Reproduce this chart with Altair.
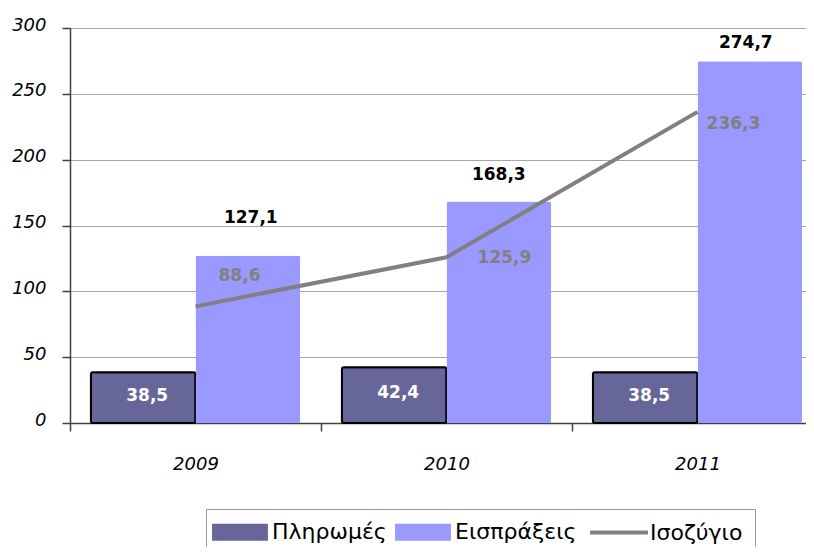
import altair as alt
import pandas as pd

years = ["2009", "2010", "2011"]
payments = [38.5, 42.4, 38.5]
receipts = [127.1, 168.3, 274.7]
balance = [88.6, 125.9, 236.3]
series_names = ["Πληρωμές", "Εισπράξεις", "Ισοζύγιο"]
series_colors = ["#666699", "#9999FF", "#808080"]
y_ticks = [0, 50, 100, 150, 200, 250, 300]

FONT = "DejaVu Sans"


def fmt(v):
    return f"{v:.1f}".replace(".", ",")


bars = pd.DataFrame({
    "year": years * 2,
    "series": [series_names[0]] * 3 + [series_names[1]] * 3,
    "value": payments + receipts,
})
bars["label"] = bars["value"].map(fmt)

line = pd.DataFrame({"year": years, "series": series_names[2], "value": balance})
line["label"] = line["value"].map(fmt)

x_enc = alt.X(
    "year:N", sort=years, title=None,
    scale=alt.Scale(range=[0, 753], paddingInner=0, paddingOuter=0),
    axis=alt.Axis(labelAngle=0, labelFont=FONT, labelFontSize=18, labelFontStyle="italic",
                  labelColor="black", labelPadding=24, tickBand="extent", tickSize=8,
                  tickColor="#404040", tickWidth=1.5, domainColor="#404040", domainWidth=1.5,
                  grid=False),
)
y_axis = alt.Axis(values=y_ticks, title=None, labelFont=FONT, labelFontSize=18,
                  labelFontStyle="italic", labelColor="black", labelPadding=16, tickSize=8,
                  tickColor="#404040", tickWidth=1.5, domainColor="#404040", domainWidth=1.5,
                  grid=True, gridColor="#a6a6a6", gridWidth=1, labelOffset=-3)
y_scale = alt.Scale(domain=[0, 300], nice=False)
xoff = alt.XOffset("series:N", sort=series_names[:2],
                   scale=alt.Scale(domain=series_names[:2], paddingInner=0, paddingOuter=0.2))

LINE_NAME = series_names[2]
DARK_NAME = series_names[0]

color = alt.Color(
    "series:N",
    scale=alt.Scale(domain=series_names, range=series_colors),
    legend=alt.Legend(
        orient="none", legendX=136, legendY=481, direction="horizontal", title=None,
        labelFont=FONT, labelFontSize=22, labelColor="black", labelLimit=0,
        symbolSize=784, labelOffset=32, columnPadding=5, padding=12,
        strokeColor="#999999", fillColor="white", rowPadding=0,
        symbolType={"expr": f"datum.value === '{LINE_NAME}' ? 'M-1.21,0H2.93' : 'M-1.14,-0.54H2.71V0.54H-1.14Z'"},
        symbolStrokeColor={"expr": f"datum.value === '{DARK_NAME}' ? 'black' : datum.value === '{LINE_NAME}' ? '#808080' : 'transparent'"},
        symbolStrokeWidth={"expr": f"datum.value === '{LINE_NAME}' ? 4 : 2"},
        symbolOpacity=1,
    ),
)

bar_layer = alt.Chart(bars).mark_bar(cornerRadius=2, strokeWidth=2).encode(
    x=x_enc, xOffset=xoff,
    y=alt.Y("value:Q", scale=y_scale, axis=y_axis),
    color=color,
    stroke=alt.condition(alt.datum.series == DARK_NAME, alt.value("black"), alt.value("transparent")),
)

line_layer = alt.Chart(line).mark_line(strokeWidth=4).encode(
    x=x_enc,
    y=alt.Y("value:Q", scale=y_scale, axis=y_axis),
    color=color,
)

dark_labels = alt.Chart(bars).transform_filter(
    alt.datum.series == DARK_NAME
).transform_calculate(mid="datum.value / 2").mark_text(
    font=FONT, fontSize=17, fontWeight="bold", color="white", dx=4, dy=-2, baseline="middle"
).encode(x=x_enc, xOffset=xoff, y=alt.Y("mid:Q", scale=y_scale, axis=y_axis), text="label:N")


def top_label(year, dx, dy):
    return alt.Chart(bars).transform_filter(
        (alt.datum.series == series_names[1]) & (alt.datum.year == year)
    ).mark_text(
        font=FONT, fontSize=17, fontWeight="bold", color="black", dx=dx, dy=dy, baseline="middle"
    ).encode(x=x_enc, xOffset=xoff, y=alt.Y("value:Q", scale=y_scale, axis=y_axis), text="label:N")


def line_label(year, dx, dy):
    return alt.Chart(line).transform_filter(alt.datum.year == year).mark_text(
        font=FONT, fontSize=17, fontWeight="bold", color="#808080", dx=dx, dy=dy, baseline="middle"
    ).encode(x=x_enc, y=alt.Y("value:Q", scale=y_scale, axis=y_axis), text="label:N")


chart = alt.layer(
    bar_layer, line_layer, dark_labels,
    top_label(years[0], 3, -38), top_label(years[1], 0, -26), top_label(years[2], -4, -18),
    line_label(years[0], 44, -30), line_label(years[1], 58, 1), line_label(years[2], 36, 12),
).properties(
    width=736, height=395,
    padding={"left": 62, "top": 20, "right": 0, "bottom": 124},
    autosize=alt.AutoSizeParams(type="none"),
).configure_view(strokeWidth=0)

chart.save("out.html", embed_options={"renderer": "svg", "actions": False})
